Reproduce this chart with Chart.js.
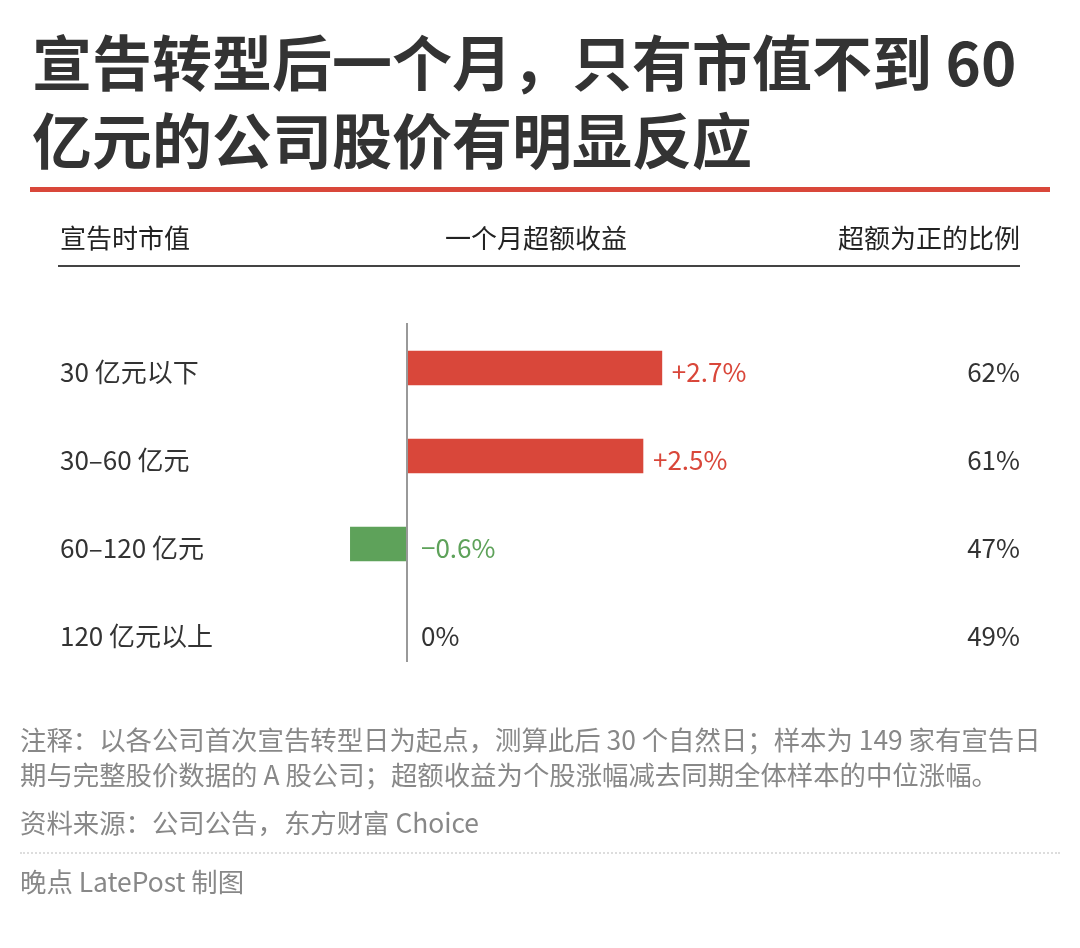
<!DOCTYPE html>
<html>
<head>
<meta charset="utf-8">
<script src="https://cdn.jsdelivr.net/npm/chart.js@4.4.0/dist/chart.umd.min.js"></script>
<style>
  html, body { margin: 0; padding: 0; background: #fff; }
  body { width: 1080px; height: 948px; position: relative; overflow: hidden;
         font-family: "Noto Sans CJK SC", "Noto Sans", sans-serif; color: #333; }
  .abs { position: absolute; white-space: nowrap; }
  #title { left: 32px; top: 21px; font-size: 60px; font-weight: 700; line-height: 78px; color: #333; }
  #rule { left: 30px; top: 187px; width: 1020px; height: 5px; background: #d9473a; }
  .head { top: 220px; font-size: 26px; line-height: 34px; color: #222; }
  #headline { left: 58px; top: 265px; width: 962px; height: 2px; background: #444; }
  .note { left: 20px; font-size: 26.4px; line-height: 34px; color: #888; }
  #dots { left: 20px; top: 852px; width: 1040px; border-top: 2px dotted #ddd; }
  #wrap { position: absolute; left: 0; top: 0; width: 1080px; height: 948px; }
</style>
</head>
<body>
<div id="wrap"><canvas id="barChart"></canvas></div>
<div class="abs" id="title">宣告转型后一个月，只有市值不到 60<br>亿元的公司股价有明显反应</div>
<div class="abs" id="rule"></div>
<div class="abs head" style="left:60px">宣告时市值</div>
<div class="abs head" style="left:445px">一个月超额收益</div>
<div class="abs head" style="right:60px">超额为正的比例</div>
<div class="abs" id="headline"></div>
<div class="abs note" style="top:722px">注释：以各公司首次宣告转型日为起点，测算此后 30 个自然日；样本为 149 家有宣告日</div>
<div class="abs note" style="top:757px">期与完整股价数据的 A 股公司；超额收益为个股涨幅减去同期全体样本的中位涨幅。</div>
<div class="abs note" style="top:805px">资料来源：公司公告，东方财富 Choice</div>
<div class="abs" id="dots"></div>
<div class="abs note" style="top:864px">晚点 LatePost 制图</div>
<script>
const categories = ['30 亿元以下', '30–60 亿元', '60–120 亿元', '120 亿元以上'];
const excessReturn = [2.7, 2.5, -0.6, 0];
const excessLabels = ['+2.7%', '+2.5%', '−0.6%', '0%'];
const positiveShare = ['62%', '61%', '47%', '49%'];

const red = '#d9473a';
const green = '#5ea25a';

const rowText = {
  id: 'rowText',
  afterDatasetsDraw(chart) {
    const ctx = chart.ctx;
    const x = chart.scales.x;
    const y = chart.scales.y;
    const zero = x.getPixelForValue(0);
    ctx.save();
    // zero axis
    ctx.strokeStyle = '#999';
    ctx.lineWidth = 2;
    ctx.beginPath();
    ctx.moveTo(zero, chart.chartArea.top - 1);
    ctx.lineTo(zero, chart.chartArea.bottom - 14);
    ctx.stroke();

    ctx.font = '26px "Noto Sans CJK SC", "Noto Sans", sans-serif';
    ctx.textBaseline = 'middle';
    categories.forEach((cat, i) => {
      const cy = y.getPixelForValue(i) + 4;
      ctx.fillStyle = '#333';
      ctx.textAlign = 'left';
      ctx.fillText(cat, 60, cy);
      ctx.textAlign = 'right';
      ctx.fillText(positiveShare[i], 1020, cy);
      const v = excessReturn[i];
      ctx.textAlign = 'left';
      if (v > 0) {
        ctx.fillStyle = red;
        ctx.fillText(excessLabels[i], x.getPixelForValue(v) + 10, cy);
      } else {
        ctx.fillStyle = v < 0 ? green : '#333';
        ctx.fillText(excessLabels[i], zero + 14, cy);
      }
    });
    ctx.restore();
  }
};

new Chart(document.getElementById('barChart'), {
  type: 'bar',
  data: {
    labels: categories,
    datasets: [{
      data: excessReturn,
      backgroundColor: excessReturn.map(v => v < 0 ? green : red),
      barThickness: 34,
      borderWidth: 0
    }]
  },
  options: {
    indexAxis: 'y',
    responsive: true,
    maintainAspectRatio: false,
    animation: false,
    layout: { padding: { left: 60, right: 60, top: 324, bottom: 272 } },
    scales: {
      x: { min: -3.676, max: 6.494, display: false, grid: { display: false } },
      y: { display: false, grid: { display: false } }
    },
    plugins: { legend: { display: false }, tooltip: { enabled: false } }
  },
  plugins: [rowText]
});
</script>
</body>
</html>
